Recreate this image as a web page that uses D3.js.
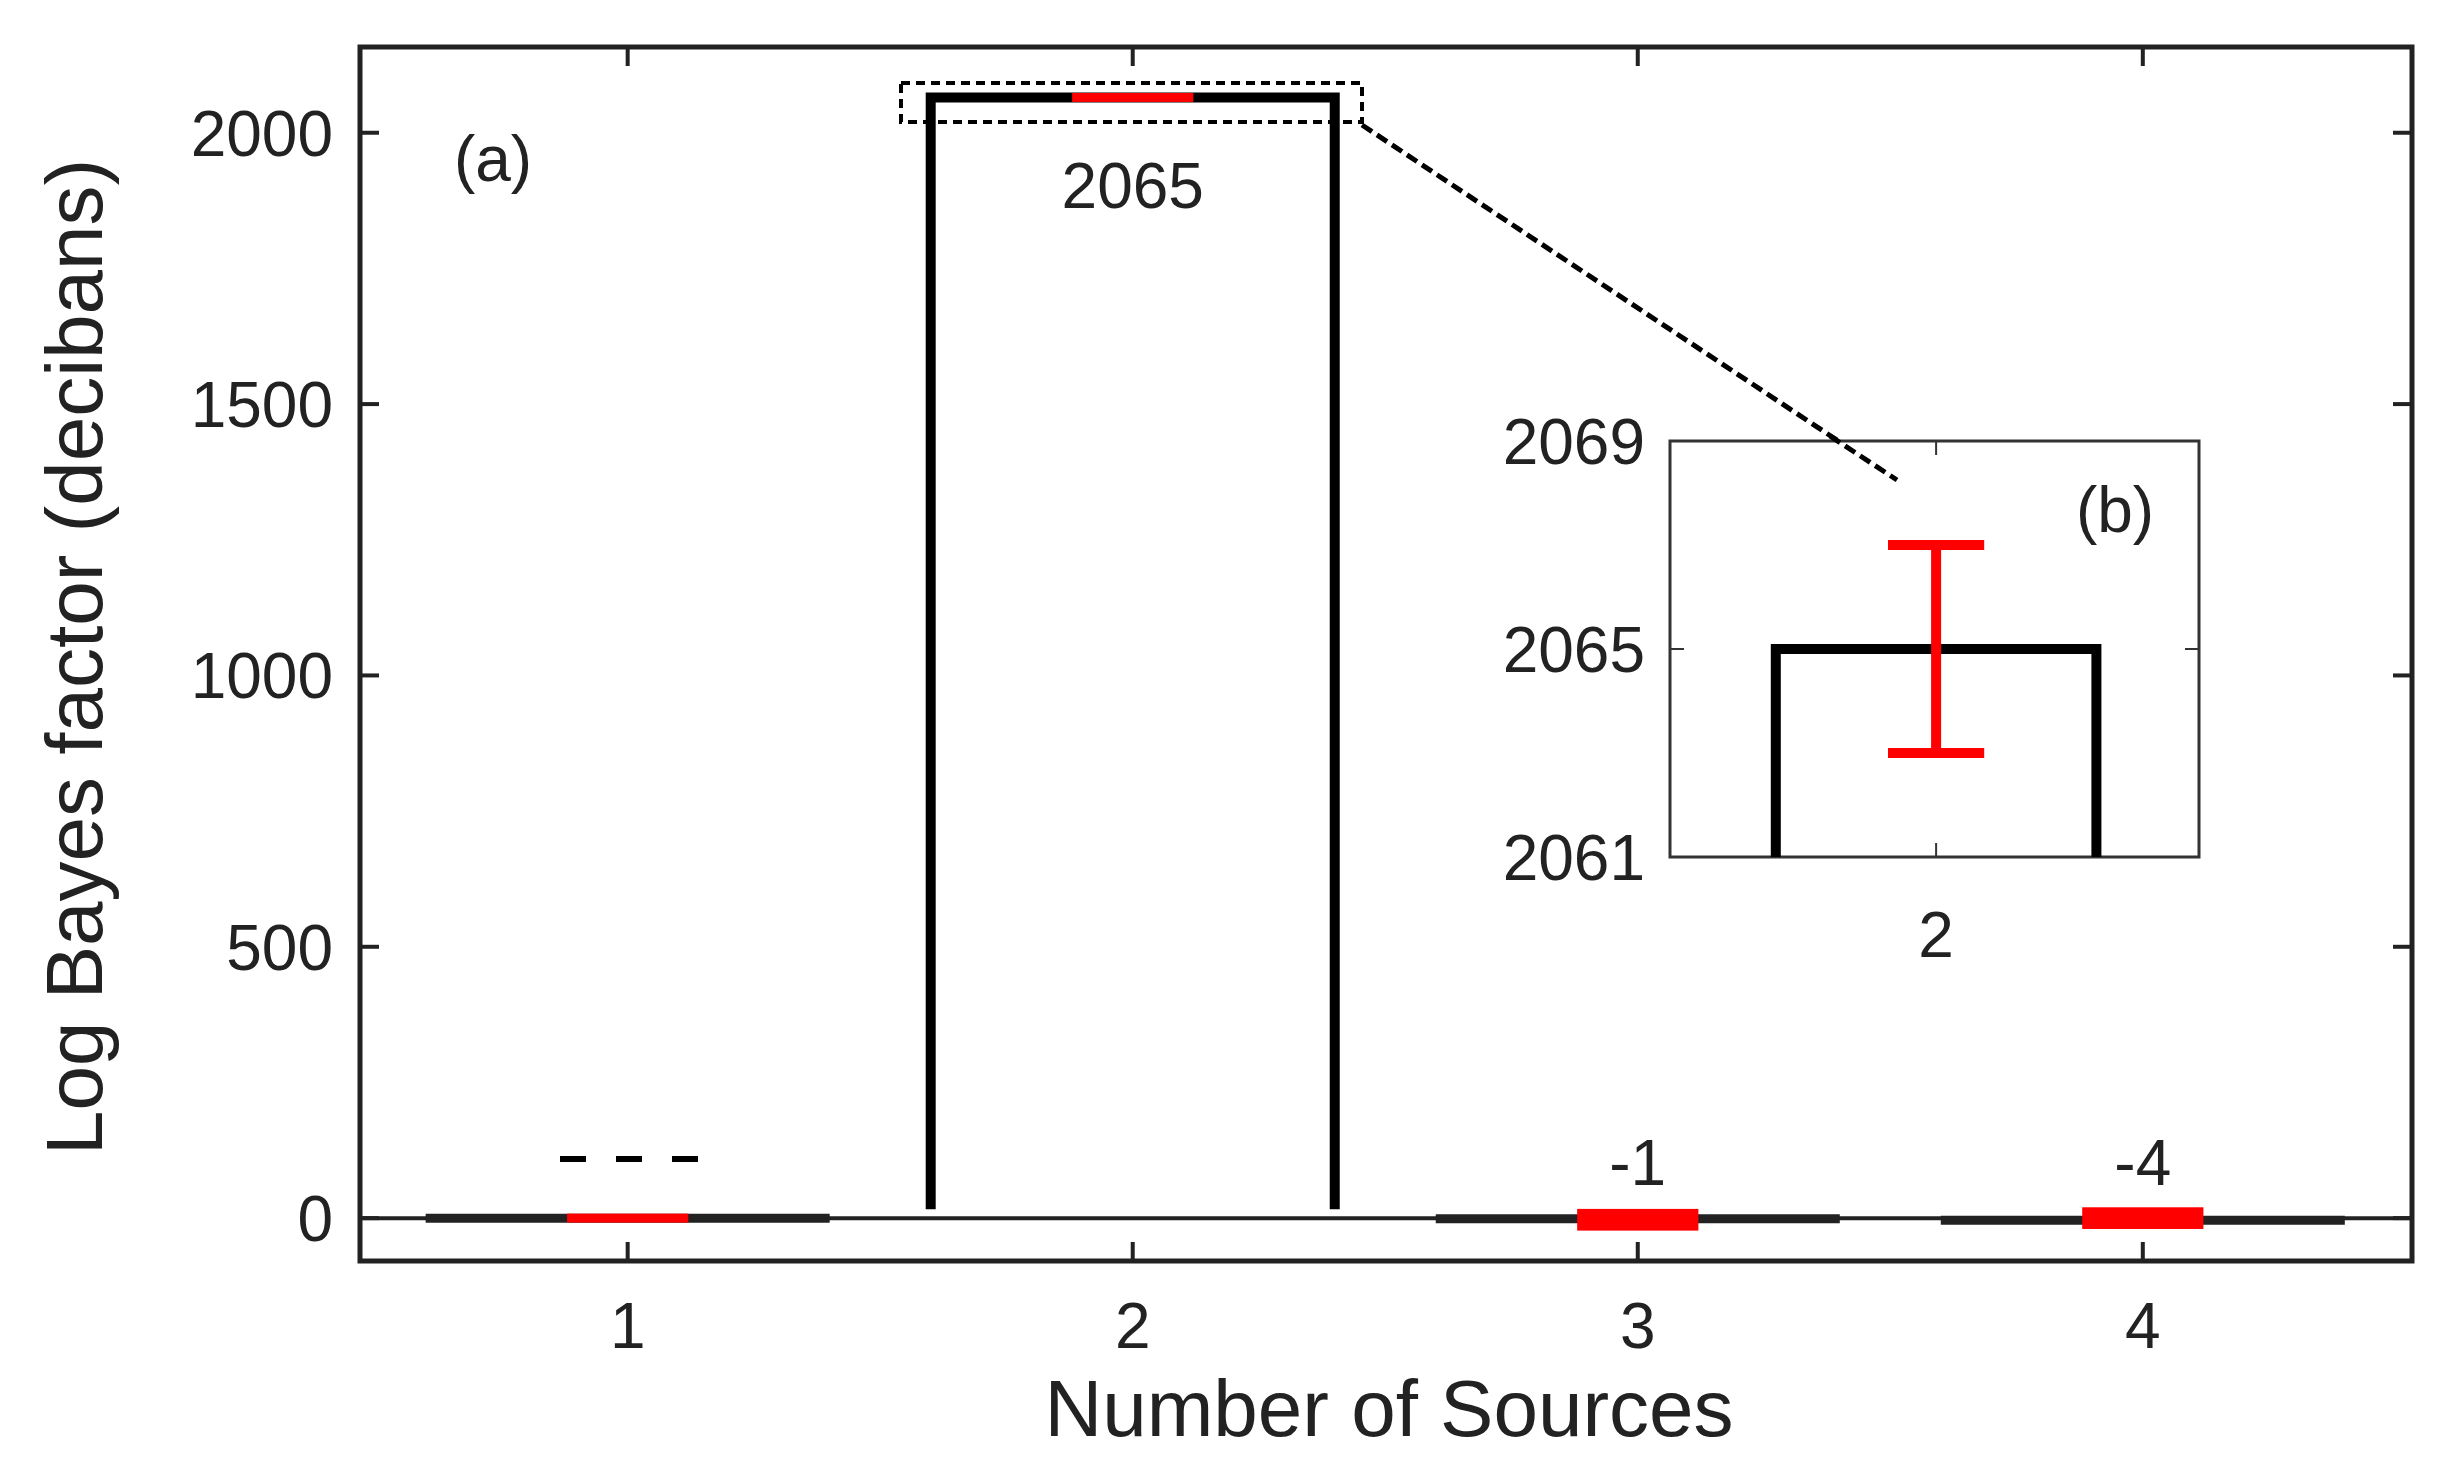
<!DOCTYPE html>
<html><head><meta charset="utf-8">
<script src="https://cdn.jsdelivr.net/npm/d3@7"></script>
<style>body{margin:0;background:#fff}text{font-family:Arial,"Liberation Sans",sans-serif;fill:#222}</style>
</head><body><svg id="c" width="2440" height="1460"></svg>
<script>
const sources=[1,2,3,4];
const values=[0,2065,-1,-4];
const errLow=[-8,2063,-23,-20];
const errHigh=[8,2067,17,20];
const valueLabels=["---","2065","-1","-4"];
const yTicks=[0,500,1000,1500,2000];
const insetTicks=[2061,2065,2069];

const svg=d3.select("#c");
const L=360,R=2412,T=47,B=1261;
const x=d3.scaleLinear().domain([0.47,4.533]).range([L,R]);
const y=d3.scaleLinear().domain([-79,2158]).range([B,T]);
const hw=0.4, ew=0.12;

// zero line
svg.append("line").attr("x1",L).attr("x2",R).attr("y1",y(0)).attr("y2",y(0)).attr("stroke","#222").attr("stroke-width",4);

// bars (open at bottom)
sources.forEach((s,i)=>{
  const v=values[i];
  if(Math.abs(v)>50){
    svg.append("path").attr("fill","none").attr("stroke","#000").attr("stroke-width",10)
      .attr("d",`M${x(s-hw)},${y(0)-9}V${y(v)}H${x(s+hw)}V${y(0)-9}`);
  } else {
    svg.append("line").attr("x1",x(s-hw)).attr("x2",x(s+hw)).attr("y1",y(v)).attr("y2",y(v)).attr("stroke","#222").attr("stroke-width",9);
  }
});
// error bars
sources.forEach((s,i)=>{
  const h=Math.max(y(errLow[i])-y(errHigh[i]),9);
  const yc=(y(errLow[i])+y(errHigh[i]))/2;
  svg.append("rect").attr("x",x(s-ew)).attr("width",x(s+ew)-x(s-ew)).attr("y",yc-h/2).attr("height",h).attr("fill","#f00");
});
// labels
svg.append("text").attr("x",x(2)).attr("y",208).attr("text-anchor","middle").attr("font-size",64).text(valueLabels[1]);
svg.append("text").attr("x",x(3)).attr("y",1185).attr("text-anchor","middle").attr("font-size",64).text(valueLabels[2]);
svg.append("text").attr("x",x(4)).attr("y",1185).attr("text-anchor","middle").attr("font-size",64).text(valueLabels[3]);
svg.append("line").attr("x1",560).attr("x2",700).attr("y1",1159).attr("y2",1159).attr("stroke","#000").attr("stroke-width",6).attr("stroke-dasharray","26 30");
svg.append("text").attr("x",493).attr("y",181).attr("text-anchor","middle").attr("font-size",64).text("(a)");

// frame
svg.append("rect").attr("x",L).attr("y",T).attr("width",R-L).attr("height",B-T).attr("fill","none").attr("stroke","#222").attr("stroke-width",5);
// y ticks both sides
yTicks.forEach(t=>{
  svg.append("line").attr("x1",L).attr("x2",L+19).attr("y1",y(t)).attr("y2",y(t)).attr("stroke","#222").attr("stroke-width",4);
  svg.append("line").attr("x1",R-19).attr("x2",R).attr("y1",y(t)).attr("y2",y(t)).attr("stroke","#222").attr("stroke-width",4);
  svg.append("text").attr("x",333).attr("y",y(t)+23).attr("text-anchor","end").attr("font-size",64).text(t);
});
sources.forEach(s=>{
  svg.append("line").attr("x1",x(s)).attr("x2",x(s)).attr("y1",B).attr("y2",B-19).attr("stroke","#222").attr("stroke-width",4);
  svg.append("line").attr("x1",x(s)).attr("x2",x(s)).attr("y1",T).attr("y2",T+19).attr("stroke","#222").attr("stroke-width",4);
  svg.append("text").attr("x",x(s)).attr("y",1348).attr("text-anchor","middle").attr("font-size",64).text(s);
});
svg.append("text").attr("x",1389).attr("y",1436).attr("text-anchor","middle").attr("font-size",80).text("Number of Sources");
svg.append("text").attr("transform","translate(102,657) rotate(-90)").attr("text-anchor","middle").attr("font-size",80).text("Log Bayes factor (decibans)");

// zoom rectangle + leader line
svg.append("rect").attr("x",901).attr("y",83).attr("width",461).attr("height",39).attr("fill","none").attr("stroke","#000").attr("stroke-width",4).attr("stroke-dasharray","9 6");
svg.append("line").attr("x1",1362).attr("y1",125).attr("x2",1897).attr("y2",480).attr("stroke","#000").attr("stroke-width",5).attr("stroke-dasharray","12 6");

// inset
const iL=1670,iR=2199,iT=441,iB=857;
const xi=d3.scaleLinear().domain([1.336,2.656]).range([iL,iR]);
const yi=d3.scaleLinear().domain([2061,2069]).range([iB,iT]);
const g=svg.append("g");
g.append("rect").attr("x",iL).attr("y",iT).attr("width",iR-iL).attr("height",iB-iT).attr("fill","#fff").attr("stroke","#333").attr("stroke-width",3);
// re-draw leader inside area
g.append("line").attr("x1",1830).attr("y1",436).attr("x2",1897).attr("y2",480).attr("stroke","#000").attr("stroke-width",5).attr("stroke-dasharray","12 6");
g.append("path").attr("fill","none").attr("stroke","#000").attr("stroke-width",10)
  .attr("d",`M${xi(2-hw)},${iB}V${yi(values[1])}H${xi(2+hw)}V${iB}`);
g.append("line").attr("x1",xi(2)).attr("x2",xi(2)).attr("y1",yi(errLow[1])).attr("y2",yi(errHigh[1])).attr("stroke","#f00").attr("stroke-width",10);
[errLow[1],errHigh[1]].forEach(v=>g.append("line").attr("x1",xi(2-ew)).attr("x2",xi(2+ew)).attr("y1",yi(v)).attr("y2",yi(v)).attr("stroke","#f00").attr("stroke-width",10));
insetTicks.forEach(t=>{
  g.append("line").attr("x1",iL).attr("x2",iL+14).attr("y1",yi(t)).attr("y2",yi(t)).attr("stroke","#333").attr("stroke-width",2);
  g.append("line").attr("x1",iR-14).attr("x2",iR).attr("y1",yi(t)).attr("y2",yi(t)).attr("stroke","#333").attr("stroke-width",2);
  g.append("text").attr("x",1645).attr("y",yi(t)+23).attr("text-anchor","end").attr("font-size",64).text(t);
});
g.append("line").attr("x1",xi(2)).attr("x2",xi(2)).attr("y1",iB).attr("y2",iB-14).attr("stroke","#333").attr("stroke-width",2);
g.append("line").attr("x1",xi(2)).attr("x2",xi(2)).attr("y1",iT).attr("y2",iT+14).attr("stroke","#333").attr("stroke-width",2);
g.append("text").attr("x",xi(2)).attr("y",957).attr("text-anchor","middle").attr("font-size",64).text("2");
g.append("text").attr("x",2115).attr("y",532).attr("text-anchor","middle").attr("font-size",64).text("(b)");
</script></body></html>
